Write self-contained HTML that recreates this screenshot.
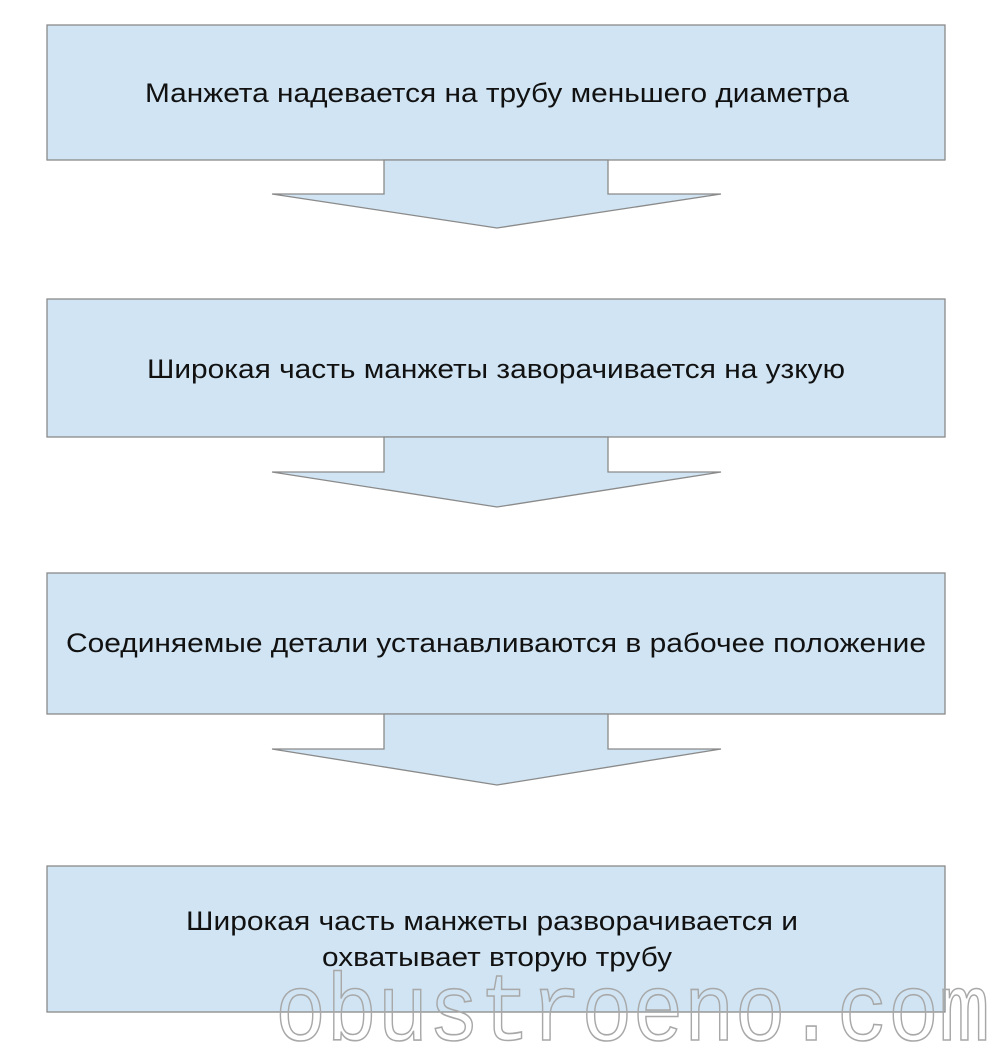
<!DOCTYPE html>
<html><head><meta charset="utf-8"><style>
html,body{margin:0;padding:0;background:#fff;width:992px;height:1050px;overflow:hidden}
.wm{font-family:"Liberation Mono",monospace}
</style></head><body>
<svg width="992" height="1050" viewBox="0 0 992 1050" xmlns="http://www.w3.org/2000/svg">
<g fill="#d0e4f3" stroke="#8a8a8a" stroke-width="1.3">
<rect x="47" y="25" width="898" height="135"/>
<polygon points="384,160 384,194 272,194 497,228 721,194 608,194 608,160"/>
<rect x="47" y="299" width="898" height="138"/>
<polygon points="384,437 384,472 272,472 497,507 721,472 608,472 608,437"/>
<rect x="47" y="573" width="898" height="141"/>
<polygon points="384,714 384,749 272,749 497,785 721,749 608,749 608,714"/>
<rect x="47" y="866" width="898" height="146"/>
</g>
<g font-family="Liberation Sans, DejaVu Sans, sans-serif" font-size="27" fill="#111" text-anchor="middle">
<text x="497" y="102" textLength="704" lengthAdjust="spacingAndGlyphs">Манжета надевается на трубу меньшего диаметра</text>
<text x="496" y="378" textLength="698" lengthAdjust="spacingAndGlyphs">Широкая часть манжеты заворачивается на узкую</text>
<text x="496" y="652" textLength="860" lengthAdjust="spacingAndGlyphs">Соединяемые детали устанавливаются в рабочее положение</text>
<text x="492" y="930" textLength="612" lengthAdjust="spacingAndGlyphs">Широкая часть манжеты разворачивается и</text>
<text x="497" y="966" textLength="350" lengthAdjust="spacingAndGlyphs">охватывает вторую трубу</text>
</g>
<text class="wm" x="275" y="1040" font-size="96" fill="none" stroke="#a8a8a8" stroke-width="1.6" textLength="715" lengthAdjust="spacingAndGlyphs">obustroeno.com</text>
</svg>
</body></html>
